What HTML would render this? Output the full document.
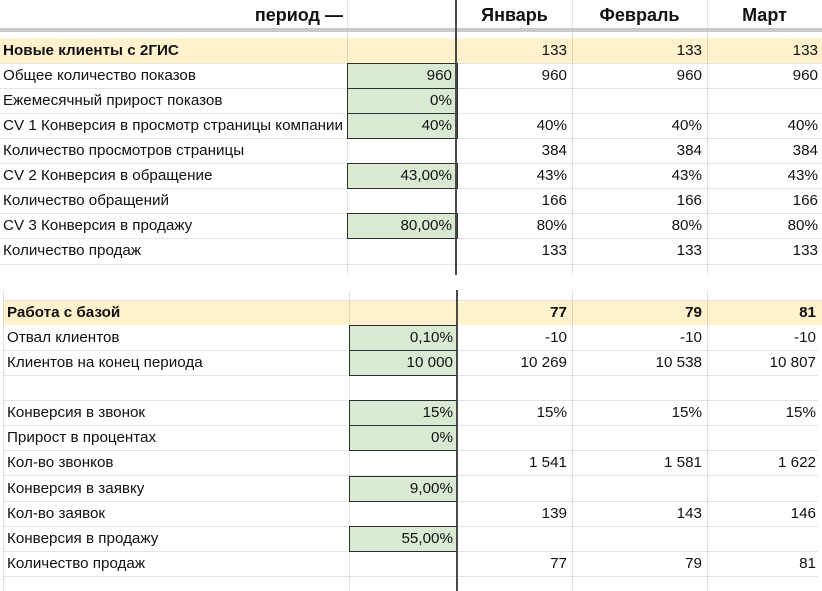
<!DOCTYPE html>
<html><head><meta charset="utf-8"><style>
html,body{margin:0;padding:0;background:#fff;}
body{width:822px;height:591px;position:relative;overflow:hidden;font-family:"Liberation Sans","Noto Sans CJK SC",sans-serif;color:#111;font-size:15.2px;}
.bg{position:absolute;}
.vl{position:absolute;width:1px;background:rgba(0,0,0,0.11);}
.hl{position:absolute;height:1px;background:#e3e3e3;}
.row{position:absolute;left:0;width:822px;height:25px;line-height:26px;white-space:nowrap;}
.row span{position:absolute;top:0;}
.t .l{left:3px;}
.t .c2{left:347px;width:105px;text-align:right;}
.t .m1{left:457px;width:110px;text-align:right;}
.t .m2{left:572px;width:130px;text-align:right;}
.t .m3{left:707px;width:111px;text-align:right;}
.b .l{left:7px;}
.b .c2{left:349px;width:104px;text-align:right;}
.b .m1{left:457px;width:110px;text-align:right;}
.b .m2{left:572px;width:130px;text-align:right;}
.b .m3{left:707px;width:109px;text-align:right;}
.g{position:absolute;background:#d9ead3;border:1px solid #2f2f2f;box-sizing:border-box;}
.bold{font-weight:bold;}
.hd{position:absolute;top:0;height:28px;line-height:30px;font-weight:bold;font-size:18px;white-space:nowrap;}
</style></head><body>

<!-- backgrounds -->
<div class="bg" style="left:0;top:38px;width:822px;height:25px;background:#fff2cc;"></div>
<div class="bg" style="left:3px;top:301px;width:819px;height:24px;background:#fff2cc;"></div>

<!-- horizontal lines top -->
<div class="hl" style="left:0;top:63px;width:822px;"></div>
<div class="hl" style="left:0;top:88px;width:822px;"></div>
<div class="hl" style="left:0;top:113px;width:822px;"></div>
<div class="hl" style="left:0;top:138px;width:822px;"></div>
<div class="hl" style="left:0;top:163px;width:822px;"></div>
<div class="hl" style="left:0;top:188px;width:822px;"></div>
<div class="hl" style="left:0;top:213px;width:822px;"></div>
<div class="hl" style="left:0;top:238px;width:822px;"></div>
<div class="hl" style="left:0;top:264px;width:822px;"></div>
<!-- horizontal lines bottom -->
<div class="hl" style="left:3px;top:300px;width:819px;"></div>
<div class="hl" style="left:3px;top:350px;width:815px;"></div>
<div class="hl" style="left:3px;top:375px;width:815px;"></div>
<div class="hl" style="left:3px;top:400px;width:815px;"></div>
<div class="hl" style="left:3px;top:425px;width:815px;"></div>
<div class="hl" style="left:3px;top:450px;width:815px;"></div>
<div class="hl" style="left:3px;top:475px;width:815px;"></div>
<div class="hl" style="left:3px;top:501px;width:815px;"></div>
<div class="hl" style="left:3px;top:526px;width:815px;"></div>
<div class="hl" style="left:3px;top:551px;width:815px;"></div>
<div class="hl" style="left:3px;top:576px;width:815px;"></div>

<!-- vertical faint lines top -->
<div class="vl" style="left:347px;top:0;height:275px;"></div>
<div class="vl" style="left:572px;top:0;height:275px;"></div>
<div class="vl" style="left:707px;top:0;height:275px;"></div>
<!-- vertical faint lines bottom -->
<div class="vl" style="left:3px;top:290px;height:301px;"></div>
<div class="vl" style="left:349px;top:290px;height:301px;"></div>
<div class="vl" style="left:572px;top:290px;height:301px;"></div>
<div class="vl" style="left:707px;top:290px;height:301px;"></div>

<!-- green cells top -->
<div class="g" style="left:347px;top:63px;width:111px;height:26px;"></div>
<div class="g" style="left:347px;top:88px;width:111px;height:26px;"></div>
<div class="g" style="left:347px;top:113px;width:111px;height:26px;"></div>
<div class="g" style="left:347px;top:163px;width:111px;height:26px;"></div>
<div class="g" style="left:347px;top:213px;width:111px;height:26px;"></div>
<!-- green cells bottom -->
<div class="g" style="left:349px;top:325px;width:109px;height:26px;"></div>
<div class="g" style="left:349px;top:350px;width:109px;height:26px;"></div>
<div class="g" style="left:349px;top:400px;width:109px;height:26px;"></div>
<div class="g" style="left:349px;top:425px;width:109px;height:26px;"></div>
<div class="g" style="left:349px;top:476px;width:109px;height:26px;"></div>
<div class="g" style="left:349px;top:526px;width:109px;height:26px;"></div>

<!-- gray frozen band -->
<div class="bg" style="left:0;top:28px;width:822px;height:4px;background:#c9c9c9;"></div>

<!-- thick vertical lines -->
<div class="bg" style="left:455px;top:0;width:2px;height:275px;background:#4a4a4a;"></div>
<div class="bg" style="left:456px;top:290px;width:2px;height:301px;background:#4a4a4a;"></div>

<!-- header -->
<div class="hd" style="left:200px;width:143px;text-align:right;">период —</div>
<div class="hd" style="left:457px;width:115px;text-align:center;">Январь</div>
<div class="hd" style="left:572px;width:135px;text-align:center;">Февраль</div>
<div class="hd" style="left:707px;width:115px;text-align:center;">Март</div>

<!-- top rows -->
<div class="row t" style="top:38px;"><span class="l bold">Новые клиенты с 2ГИС</span><span class="m1">133</span><span class="m2">133</span><span class="m3">133</span></div>
<div class="row t" style="top:63px;"><span class="l">Общее количество показов</span><span class="c2">960</span><span class="m1">960</span><span class="m2">960</span><span class="m3">960</span></div>
<div class="row t" style="top:88px;"><span class="l">Ежемесячный прирост показов</span><span class="c2">0%</span></div>
<div class="row t" style="top:113px;"><span class="l">CV 1 Конверсия в просмотр страницы компании</span><span class="c2">40%</span><span class="m1">40%</span><span class="m2">40%</span><span class="m3">40%</span></div>
<div class="row t" style="top:138px;"><span class="l">Количество просмотров страницы</span><span class="m1">384</span><span class="m2">384</span><span class="m3">384</span></div>
<div class="row t" style="top:163px;"><span class="l">CV 2 Конверсия в обращение</span><span class="c2">43,00%</span><span class="m1">43%</span><span class="m2">43%</span><span class="m3">43%</span></div>
<div class="row t" style="top:188px;"><span class="l">Количество обращений</span><span class="m1">166</span><span class="m2">166</span><span class="m3">166</span></div>
<div class="row t" style="top:213px;"><span class="l">CV 3 Конверсия в продажу</span><span class="c2">80,00%</span><span class="m1">80%</span><span class="m2">80%</span><span class="m3">80%</span></div>
<div class="row t" style="top:238px;"><span class="l">Количество продаж</span><span class="m1">133</span><span class="m2">133</span><span class="m3">133</span></div>

<!-- bottom rows -->
<div class="row b bold" style="top:300px;"><span class="l">Работа с базой</span><span class="m1">77</span><span class="m2">79</span><span class="m3">81</span></div>
<div class="row b" style="top:325px;"><span class="l">Отвал клиентов</span><span class="c2">0,10%</span><span class="m1">-10</span><span class="m2">-10</span><span class="m3">-10</span></div>
<div class="row b" style="top:350px;"><span class="l">Клиентов на конец периода</span><span class="c2">10 000</span><span class="m1">10 269</span><span class="m2">10 538</span><span class="m3">10 807</span></div>
<div class="row b" style="top:400px;"><span class="l">Конверсия в звонок</span><span class="c2">15%</span><span class="m1">15%</span><span class="m2">15%</span><span class="m3">15%</span></div>
<div class="row b" style="top:425px;"><span class="l">Прирост в процентах</span><span class="c2">0%</span></div>
<div class="row b" style="top:450px;"><span class="l">Кол-во звонков</span><span class="m1">1 541</span><span class="m2">1 581</span><span class="m3">1 622</span></div>
<div class="row b" style="top:476px;"><span class="l">Конверсия в заявку</span><span class="c2">9,00%</span></div>
<div class="row b" style="top:501px;"><span class="l">Кол-во заявок</span><span class="m1">139</span><span class="m2">143</span><span class="m3">146</span></div>
<div class="row b" style="top:526px;"><span class="l">Конверсия в продажу</span><span class="c2">55,00%</span></div>
<div class="row b" style="top:551px;"><span class="l">Количество продаж</span><span class="m1">77</span><span class="m2">79</span><span class="m3">81</span></div>

</body></html>
